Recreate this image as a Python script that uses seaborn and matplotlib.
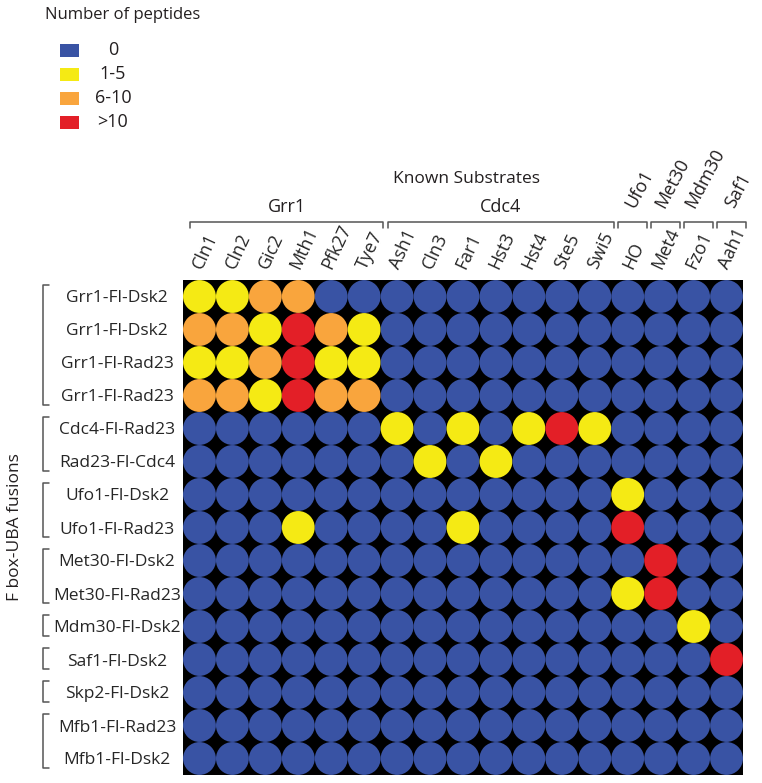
import numpy as np
import pandas as pd
import seaborn as sns
import matplotlib.pyplot as plt
from matplotlib import transforms
from matplotlib.lines import Line2D
from matplotlib.patches import Rectangle

# ------------------------------------------------------------------
# data
# ------------------------------------------------------------------
substrates = ["Cln1", "Cln2", "Gic2", "Mth1", "Pfk27", "Tye7", "Ash1", "Cln3",
              "Far1", "Hst3", "Hst4", "Ste5", "Swi5", "HO", "Met4", "Fzo1", "Aah1"]

fusions = ["Grr1-Fl-Dsk2", "Grr1-Fl-Dsk2", "Grr1-Fl-Rad23", "Grr1-Fl-Rad23",
           "Cdc4-Fl-Rad23", "Rad23-Fl-Cdc4", "Ufo1-Fl-Dsk2", "Ufo1-Fl-Rad23",
           "Met30-Fl-Dsk2", "Met30-Fl-Rad23", "Mdm30-Fl-Dsk2", "Saf1-Fl-Dsk2",
           "Skp2-Fl-Dsk2", "Mfb1-Fl-Rad23", "Mfb1-Fl-Dsk2"]

# (name, first column, last column)
substrate_groups = [("Grr1", 0, 5), ("Cdc4", 6, 12), ("Ufo1", 13, 13),
                    ("Met30", 14, 14), ("Mdm30", 15, 15), ("Saf1", 16, 16)]
# (first row, last row)
fusion_groups = [(0, 3), (4, 5), (6, 7), (8, 9), (10, 10), (11, 11), (12, 12), (13, 14)]

level_names = ["0", "1-5", "6-10", ">10"]
level_colors = ["#3953a4", "#f5ea14", "#f9a53d", "#e31f27"]

# peptide class per fusion (row) and substrate (column): 0=0, 1=1-5, 2=6-10, 3=>10
peptides = [
    [1, 1, 2, 2, 0, 0, 0, 0, 0, 0, 0, 0, 0, 0, 0, 0, 0],
    [2, 2, 1, 3, 2, 1, 0, 0, 0, 0, 0, 0, 0, 0, 0, 0, 0],
    [1, 1, 2, 3, 1, 1, 0, 0, 0, 0, 0, 0, 0, 0, 0, 0, 0],
    [2, 2, 1, 3, 2, 2, 0, 0, 0, 0, 0, 0, 0, 0, 0, 0, 0],
    [0, 0, 0, 0, 0, 0, 1, 0, 1, 0, 1, 3, 1, 0, 0, 0, 0],
    [0, 0, 0, 0, 0, 0, 0, 1, 0, 1, 0, 0, 0, 0, 0, 0, 0],
    [0, 0, 0, 0, 0, 0, 0, 0, 0, 0, 0, 0, 0, 1, 0, 0, 0],
    [0, 0, 0, 1, 0, 0, 0, 0, 1, 0, 0, 0, 0, 3, 0, 0, 0],
    [0, 0, 0, 0, 0, 0, 0, 0, 0, 0, 0, 0, 0, 0, 3, 0, 0],
    [0, 0, 0, 0, 0, 0, 0, 0, 0, 0, 0, 0, 0, 1, 3, 0, 0],
    [0, 0, 0, 0, 0, 0, 0, 0, 0, 0, 0, 0, 0, 0, 0, 1, 0],
    [0, 0, 0, 0, 0, 0, 0, 0, 0, 0, 0, 0, 0, 0, 0, 0, 3],
    [0, 0, 0, 0, 0, 0, 0, 0, 0, 0, 0, 0, 0, 0, 0, 0, 0],
    [0, 0, 0, 0, 0, 0, 0, 0, 0, 0, 0, 0, 0, 0, 0, 0, 0],
    [0, 0, 0, 0, 0, 0, 0, 0, 0, 0, 0, 0, 0, 0, 0, 0, 0],
]

records = []
for r, row in enumerate(peptides):
    for c, v in enumerate(row):
        records.append({"col": c, "row": r, "level": level_names[v]})
df = pd.DataFrame(records)
palette = dict(zip(level_names, level_colors))

# ------------------------------------------------------------------
# figure
# ------------------------------------------------------------------
W, H = 762, 783
sns.set_theme(style="white")
plt.rcParams["font.family"] = ["Open Sans", "DejaVu Sans"]
plt.rcParams["text.color"] = "#231f20"

fig = plt.figure(figsize=(W / 100, H / 100), dpi=100)
ax = fig.add_axes([183 / W, 1 - 775 / H, 560 / W, 495 / H])
ax.set_facecolor("black")

sns.scatterplot(data=df, x="col", y="row", hue="level", palette=palette,
                s=560, marker="o", linewidth=0, legend=False, ax=ax)

ax.set_xlim(-0.5, len(substrates) - 0.5)
ax.set_ylim(len(fusions) - 0.5, -0.5)
for sp in ax.spines.values():
    sp.set_visible(False)
ax.set_xlabel("")
ax.set_ylabel("")

# column labels on top
ax.xaxis.tick_top()
ax.set_xticks(range(len(substrates)))
ax.set_xticklabels(substrates, rotation=65, fontsize=13, ha="center", va="bottom")
ax.tick_params(axis="x", length=0, pad=6)
shift = transforms.ScaledTranslation(4 / 72, 0, fig.dpi_scale_trans)
for lbl in ax.get_xticklabels():
    lbl.set_transform(lbl.get_transform() + shift)

# row labels, centred
ax.set_yticks(range(len(fusions)))
ax.set_yticklabels(fusions, fontsize=12.5)
ax.tick_params(axis="y", length=0, pad=47.5)
for lbl in ax.get_yticklabels():
    lbl.set_ha("center")

# top brackets
tr_top = transforms.blended_transform_factory(ax.transData, ax.transAxes)
y_line, y_tick = 1.117, 1.105
for name, a, b in substrate_groups:
    x0, x1 = a - 0.5 + 0.22, b + 0.5 + 0.08
    ax.add_line(Line2D([x0, x0, x1, x1], [y_tick, y_line, y_line, y_tick],
                       transform=tr_top, color="#555555", lw=1.1, clip_on=False))
    xc = (x0 + x1) / 2
    if b > a:
        ax.text(xc, 1.148, name, transform=tr_top, ha="center", va="center",
                fontsize=13)
    else:
        ax.text(xc + 0.2, 1.14, name, transform=tr_top, ha="center", va="bottom",
                rotation=62, fontsize=13)

ax.text(0.507, 1.204, "Known Substrates", transform=ax.transAxes,
        ha="center", va="center", fontsize=12.5)

# left brackets
tr_left = transforms.blended_transform_factory(ax.transAxes, ax.transData)
xb, xt = -0.25, -0.239
for a, b in fusion_groups:
    y0, y1 = a - 0.5 + 0.14, b + 0.5 - 0.2
    ax.add_line(Line2D([xt, xb, xb, xt], [y0, y0, y1, y1], transform=tr_left,
                       color="#555555", lw=1.1, clip_on=False))

ax.text(-0.3, 0.5, "F box-UBA fusions", transform=ax.transAxes, rotation=90,
        ha="center", va="center", fontsize=12.5)

# legend
fig.text(45 / W, 1 - 15 / H, "Number of peptides", ha="left", va="center", fontsize=12)
for i, (name, col) in enumerate(zip(level_names, level_colors)):
    cy = 50 + i * 24
    fig.add_artist(Rectangle((60 / W, 1 - (cy + 6.5) / H), 19 / W, 13 / H,
                             transform=fig.transFigure, color=col, lw=0))
    fig.text(113 / W, 1 - cy / H, name, ha="center", va="center", fontsize=13)

fig.savefig("out.png", dpi=100)
